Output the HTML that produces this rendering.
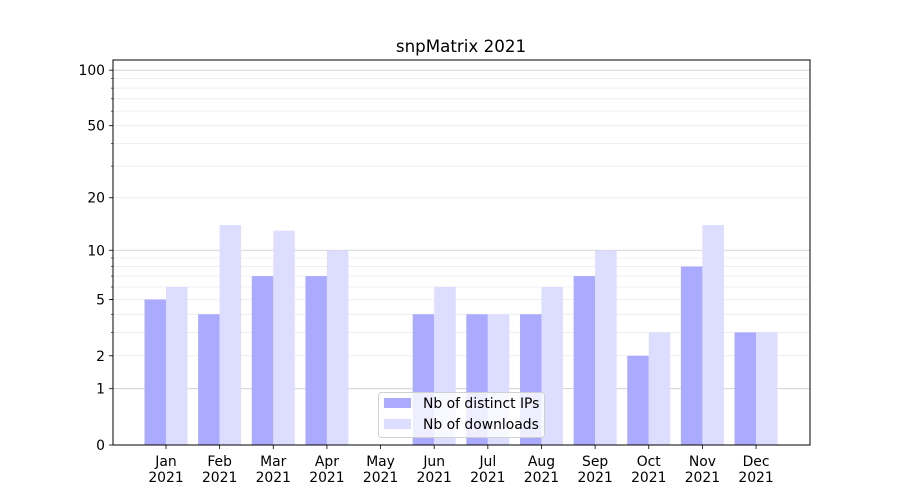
<!DOCTYPE html>
<html><head><meta charset="utf-8"><style>
body{margin:0;background:#fff;}
svg{display:block;font-family:"DejaVu Sans","Liberation Sans",sans-serif;}
</style></head><body>
<svg id="c" width="900" height="500"></svg>
<script>
const categories=["Jan","Feb","Mar","Apr","May","Jun","Jul","Aug","Sep","Oct","Nov","Dec"];
const ipValues=[5,4,7,7,0,4,4,4,7,2,8,3];
const downloadValues=[6,14,13,10,0,6,4,6,10,3,14,3];
const yTicks=[0,1,2,5,10,20,50,100];
const minorTicks=[2,3,4,5,6,7,8,9,20,30,40,50,60,70,80,90];
const majorGrid=[1,10,100];
const NS="http://www.w3.org/2000/svg";
const svg=document.getElementById('c');
function el(t,a,p){const e=document.createElementNS(NS,t);for(const k in a)e.setAttribute(k,a[k]);(p||svg).appendChild(e);return e;}
const L=113,R=810,T=60,B=445;
const FS=13.9;
function y(v){return B-187*Math.log10(1+v);}
function xc(i){return 166+i*53.64;}
const bw=21.5;
const grid=el('g',{});


minorTicks.forEach(v=>{el('line',{x1:L,x2:R,y1:y(v),y2:y(v),stroke:'#ebebeb','stroke-width':0.8},grid);});
majorGrid.forEach(v=>{el('line',{x1:L,x2:R,y1:y(v),y2:y(v),stroke:'#cccccc','stroke-width':0.8},grid);});
categories.forEach((c,i)=>{
  const b1=el('rect',{x:xc(i)-bw,y:y(ipValues[i]),width:bw,height:B-y(ipValues[i]),fill:'#aaaaff'});
  
  
  const b2=el('rect',{x:xc(i),y:y(downloadValues[i]),width:bw,height:B-y(downloadValues[i]),fill:'#ddddff'});
  
  
  el('line',{x1:xc(i),x2:xc(i),y1:B,y2:B+4,stroke:'#000','stroke-width':0.8});
  const t1=el('text',{x:xc(i),y:B+21,'font-size':FS,'text-anchor':'middle'});t1.textContent=c;
  
  
  const t2=el('text',{x:xc(i),y:B+37,'font-size':FS,'text-anchor':'middle'});t2.textContent='2021';
  
  
});
minorTicks.forEach(v=>{el('line',{x1:L-2,x2:L,y1:y(v),y2:y(v),stroke:'#000','stroke-width':0.6});});
yTicks.forEach(v=>{
  el('line',{x1:L-4,x2:L,y1:y(v),y2:y(v),stroke:'#000','stroke-width':0.8});
  const t=el('text',{x:L-8,y:y(v)+5,'font-size':FS,'text-anchor':'end'});t.textContent=v;
  
  
});
const frame=el('rect',{x:L,y:T,width:R-L,height:B-T,fill:'none',stroke:'#000','stroke-width':1});


const title=el('text',{x:461,y:52,'font-size':16.7,'text-anchor':'middle'});title.textContent='snpMatrix 2021';


const lg=el('g',{});


el('rect',{x:378.5,y:392.5,width:166,height:45,rx:3,fill:'rgba(255,255,255,0.8)',stroke:'#d0d0d0'},lg);
el('rect',{x:384,y:398,width:27,height:10,fill:'#aaaaff'},lg);
el('rect',{x:384,y:419,width:27,height:10,fill:'#ddddff'},lg);
const l1=el('text',{x:423,y:408,'font-size':FS},lg);l1.textContent='Nb of distinct IPs';


const l2=el('text',{x:423,y:429,'font-size':FS},lg);l2.textContent='Nb of downloads';


</script>
</body></html>
